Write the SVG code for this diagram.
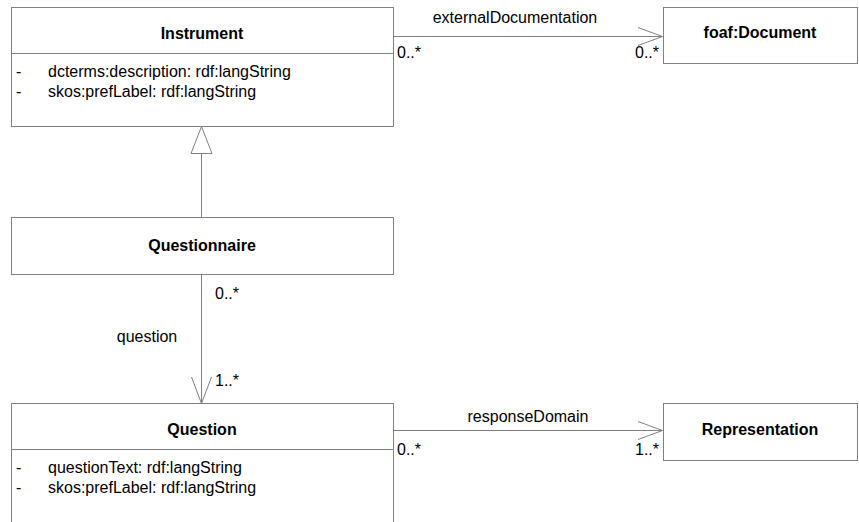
<svg xmlns="http://www.w3.org/2000/svg" width="859" height="522" viewBox="0 0 859 522">
  <style>
    .box { fill: #ffffff; stroke: #808080; stroke-width: 1; }
    .div { stroke: #808080; stroke-width: 1; }
    .edge { fill: none; stroke: #808080; stroke-width: 1; }
    text { font-family: "Liberation Sans", Arial, sans-serif; font-size: 16px; fill: #000000; }
    .title { font-weight: bold; text-anchor: middle; }
    .mid { text-anchor: middle; }
    .end { text-anchor: end; }
  </style>
  <rect x="0" y="0" width="859" height="522" fill="#ffffff"/>

  <!-- connectors -->
  <g id="connectors">
    <!-- Instrument -> foaf:Document -->
    <g id="edge-externalDocumentation">
      <line class="edge" x1="393.5" y1="36.5" x2="662.5" y2="36.5"/>
      <polyline class="edge" points="638,27.5 662.5,36.5 638,45.5"/>
      <text class="mid" x="515" y="23">externalDocumentation</text>
      <text x="397" y="58">0..*</text>
      <text class="end" x="659" y="58">0..*</text>
    </g>
    <!-- Questionnaire generalizes Instrument -->
    <g id="edge-generalization">
      <line class="edge" x1="201.5" y1="153" x2="201.5" y2="217.5"/>
      <polygon class="edge" points="201.5,126.5 191,153.5 212,153.5"/>
    </g>
    <!-- Questionnaire -> Question -->
    <g id="edge-question">
      <line class="edge" x1="201.5" y1="274.5" x2="201.5" y2="403.5"/>
      <polyline class="edge" points="191.5,377 201.5,403.5 211.5,377"/>
      <text class="mid" x="147" y="342">question</text>
      <text x="215" y="299">0..*</text>
      <text x="215" y="386">1..*</text>
    </g>
    <!-- Question -> Representation -->
    <g id="edge-responseDomain">
      <line class="edge" x1="393.5" y1="430.5" x2="662.5" y2="430.5"/>
      <polyline class="edge" points="638,421.5 662.5,430.5 638,439.5"/>
      <text class="mid" x="528" y="422">responseDomain</text>
      <text x="397" y="455">0..*</text>
      <text class="end" x="659" y="455">1..*</text>
    </g>
  </g>

  <!-- nodes -->
  <g id="node-instrument">
    <rect class="box" x="11.5" y="7.5" width="382" height="119"/>
    <line class="div" x1="11.5" y1="53.5" x2="393.5" y2="53.5"/>
    <text class="title" x="202" y="39">Instrument</text>
    <text x="16" y="77">-</text>
    <text x="48" y="77">dcterms:description: rdf:langString</text>
    <text x="16" y="97">-</text>
    <text x="48" y="97">skos:prefLabel: rdf:langString</text>
  </g>

  <g id="node-foaf-document">
    <rect class="box" x="663.5" y="7.5" width="194" height="56"/>
    <text class="title" x="760" y="38">foaf:Document</text>
  </g>

  <g id="node-questionnaire">
    <rect class="box" x="11.5" y="217.5" width="382" height="57"/>
    <text class="title" x="202" y="251">Questionnaire</text>
  </g>

  <g id="node-question">
    <rect class="box" x="11.5" y="403.5" width="382" height="130"/>
    <line class="div" x1="11.5" y1="449.5" x2="393.5" y2="449.5"/>
    <text class="title" x="202" y="435">Question</text>
    <text x="16" y="473">-</text>
    <text x="48" y="473">questionText: rdf:langString</text>
    <text x="16" y="493">-</text>
    <text x="48" y="493">skos:prefLabel: rdf:langString</text>
  </g>

  <g id="node-representation">
    <rect class="box" x="663.5" y="403.5" width="194" height="57"/>
    <text class="title" x="760" y="435">Representation</text>
  </g>
</svg>
